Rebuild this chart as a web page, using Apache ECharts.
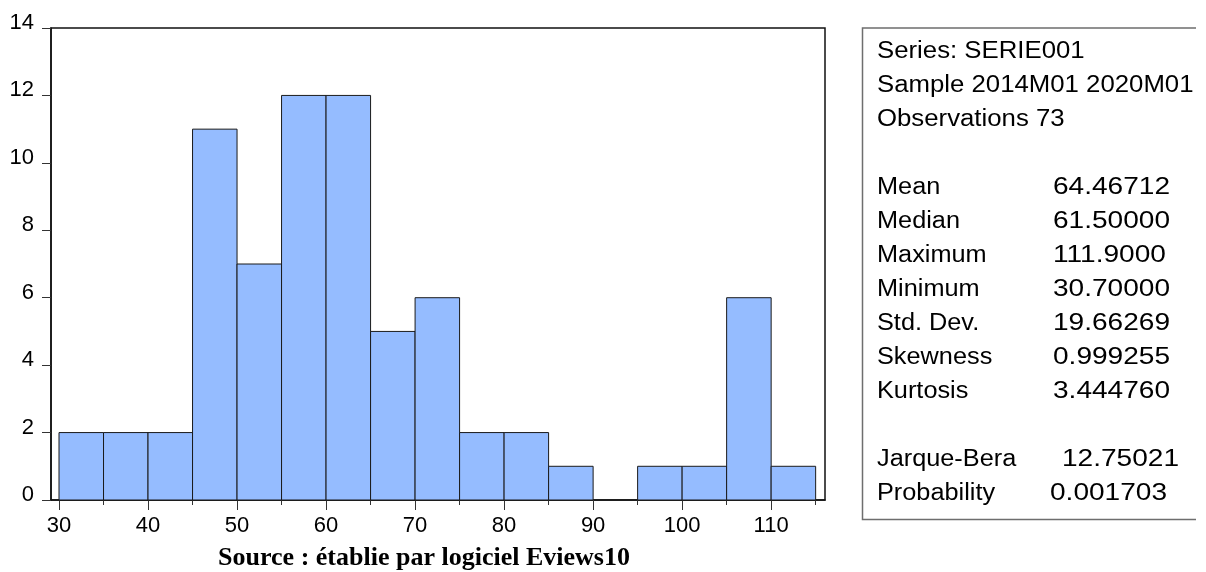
<!DOCTYPE html>
<html>
<head>
<meta charset="utf-8">
<script src="https://cdn.jsdelivr.net/npm/echarts@6/dist/echarts.min.js"></script>
<style>
  html, body { margin: 0; padding: 0; background: #fff; }
  #chart { width: 1206px; height: 572px; }
</style>
</head>
<body>
<div id="chart"></div>
<script>
// Histogram bins (lower edges) and their counts
const binStarts = [30, 35, 40, 45, 50, 55, 60, 65, 70, 75, 80, 85, 90, 95, 100, 105, 110];
const binWidth = 5;
const counts = [2, 2, 2, 11, 7, 12, 12, 5, 6, 2, 2, 1, 0, 1, 1, 6, 1];

// Axis tick positions
const xMajorTicks = [30, 40, 50, 60, 70, 80, 90, 100, 110];
const xMinorTicks = [35, 45, 55, 65, 75, 85, 95, 105, 115];

// Descriptive statistics panel
const headerLines = ['Series: SERIE001', 'Sample 2014M01 2020M01', 'Observations 73'];
const statNames = ['Mean', 'Median', 'Maximum', 'Minimum', 'Std. Dev.', 'Skewness', 'Kurtosis'];
const statValues = ['64.46712', '61.50000', '111.9000', '30.70000', '19.66269', '0.999255', '3.444760'];
const testNames = ['Jarque-Bera', 'Probability'];
const testValues = ['12.75021', '0.001703'];

const sourceNote = 'Source : établie par logiciel Eviews10';

const SANS = '"Liberation Sans", Arial, sans-serif';
const SERIF = '"Liberation Serif", "Times New Roman", serif';

const chart = echarts.init(document.getElementById('chart'), null, { renderer: 'canvas' });

const histData = binStarts.map((s, i) => [s, s + binWidth, counts[i]]);

function renderBar(params, api) {
  const c = api.value(2);
  if (!c) return null;
  const p0 = api.coord([api.value(0), 0]);
  const p1 = api.coord([api.value(1), c]);
  return {
    type: 'rect',
    shape: { x: p0[0], y: p1[1], width: p1[0] - p0[0], height: p0[1] - p1[1] },
    style: { fill: '#95bcff', stroke: '#1a1a1a', lineWidth: 1 }
  };
}

// Statistics panel text
const panelText = [];
const rowY = i => 52 + 34 * i;
const panelLabel = (text, x, y, sx) => ({
  type: 'text',
  x: x, y: y, scaleX: sx,
  style: { text: text, fill: '#000', fontFamily: SANS, fontSize: 23, align: 'left', verticalAlign: 'middle' }
});
headerLines.forEach((t, i) => panelText.push(panelLabel(t, 877, rowY(i), 1.12)));
statNames.forEach((t, i) => {
  panelText.push(panelLabel(t, 877, rowY(4 + i), 1.1));
  panelText.push(panelLabel(statValues[i], 1053, rowY(4 + i), 1.22));
});
const testValueX = [1062, 1050];
testNames.forEach((t, i) => {
  panelText.push(panelLabel(t, 877, rowY(12 + i), 1.1));
  panelText.push(panelLabel(testValues[i], testValueX[i], rowY(12 + i), 1.22));
});

const option = {
  animation: false,
  backgroundColor: '#fff',
  grid: {
    left: 51, top: 28, right: 381, bottom: 72,
    show: true, borderColor: '#111', borderWidth: 1.5, backgroundColor: 'transparent'
  },
  xAxis: [
    {
      type: 'value', min: 29.1, max: 116.05,
      axisLine: { show: true, lineStyle: { color: '#111', width: 1.5 } },
      splitLine: { show: false },
      axisTick: { show: true, length: 10, customValues: xMajorTicks, lineStyle: { color: '#333' } },
      axisLabel: { customValues: xMajorTicks, color: '#000', fontFamily: SANS, fontSize: 22, margin: 15 }
    },
    {
      type: 'value', min: 29.1, max: 116.05, position: 'bottom',
      axisLine: { show: false },
      splitLine: { show: false },
      axisTick: { show: true, length: 5, customValues: xMinorTicks, lineStyle: { color: '#333' } },
      axisLabel: { show: false }
    }
  ],
  yAxis: {
    type: 'value', min: 0, max: 14, interval: 2,
    axisLine: { show: true, lineStyle: { color: '#111', width: 1.5 } },
    splitLine: { show: false },
    axisTick: { show: true, length: 9, lineStyle: { color: '#333' } },
    axisLabel: { color: '#000', fontFamily: SANS, fontSize: 22, margin: 17, verticalAlign: 'bottom', lineHeight: 10 }
  },
  series: [{
    type: 'custom',
    xAxisIndex: 0,
    renderItem: renderBar,
    encode: { x: [0, 1], y: 2 },
    data: histData
  }],
  graphic: [
    {
      type: 'polyline',
      shape: { points: [[1196, 28], [862.5, 28], [862.5, 519.5], [1196, 519.5]] },
      style: { stroke: '#6e6e6e', lineWidth: 1.5, fill: null }
    },
    ...panelText,
    {
      type: 'text',
      x: 424, y: 558,
      style: { text: sourceNote, fill: '#000', fontFamily: SERIF, fontWeight: 'bold', fontSize: 26, align: 'center', verticalAlign: 'middle' }
    }
  ]
};

chart.setOption(option);
</script>
</body>
</html>
